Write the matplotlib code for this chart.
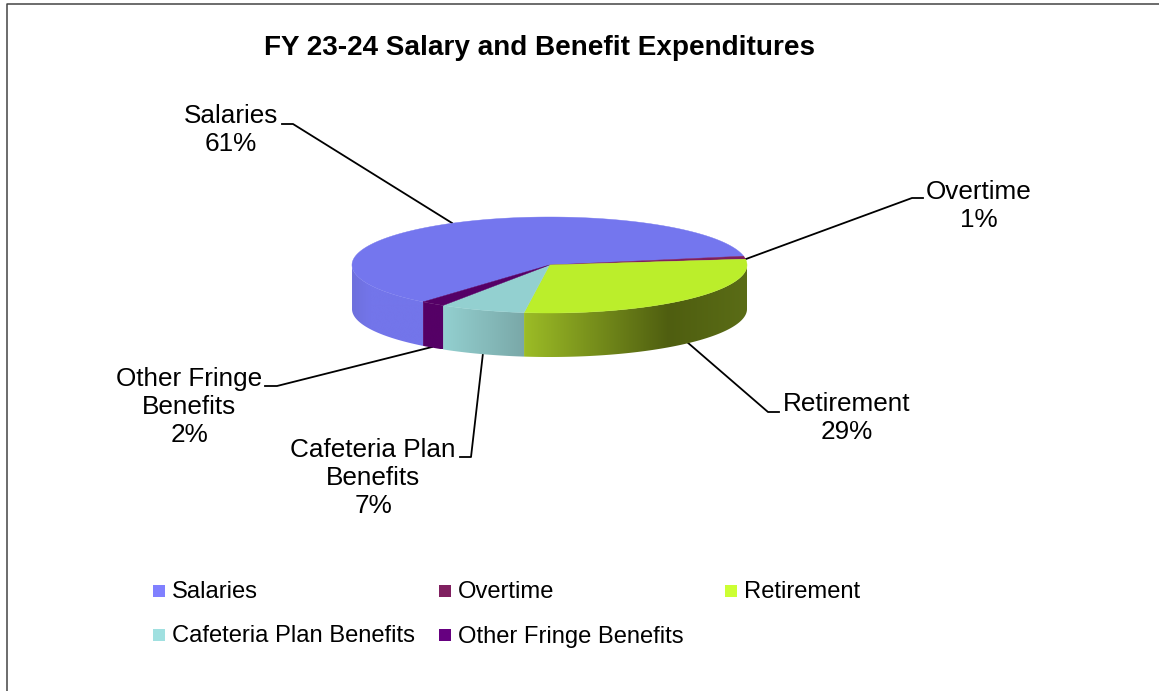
import matplotlib
matplotlib.use('Agg')
import matplotlib.pyplot as plt
from matplotlib.colors import LinearSegmentedColormap
from matplotlib.patches import Polygon, Rectangle
import numpy as np

plt.rcParams['font.family'] = ['Liberation Sans', 'DejaVu Sans']

# the chart values
categories = ['Salaries', 'Overtime', 'Retirement', 'Cafeteria Plan Benefits', 'Other Fringe Benefits']
percents = [61, 1, 29, 7, 2]
title = 'FY 23-24 Salary and Benefit Expenditures'

top_colors = ['#7476EE', '#7F1F5F', '#BBEE2B', '#93D0D0', '#550066']
legend_colors = ['#8080FF', '#802060', '#CCFF33', '#A0E0E0', '#660080']
side_stops = [
    [(0.0, '#6E70DC'), (0.25, '#7375EA'), (1.0, '#7375EA')],
    [(0.0, '#6A1850'), (1.0, '#6A1850')],
    [(0.0, '#9CBC26'), (0.65, '#4F5E10'), (1.0, '#5A6C16')],
    [(0.0, '#93D0D0'), (1.0, '#7AA8A8')],
    [(0.0, '#550066'), (1.0, '#550066')],
]

# pie geometry in pixels, ax is set up with pixel coords
cx, cy = 549.5, 265
rx, ry = 197.5, 48
depth = 44
start_angle = 230.2  # salaries starts here and goes clockwise

fig = plt.figure(figsize=(11.59, 6.91), dpi=100)
ax = fig.add_axes([0, 0, 1, 1])
ax.set_xlim(0, 1159)
ax.set_ylim(691, 0)
ax.axis('off')


def ell(theta_deg, dy=0):
    t = np.radians(theta_deg)
    return cx + rx * np.cos(t), cy - ry * np.sin(t) + dy


# frame only shows on the top and left
ax.plot([7, 7, 1159], [691, 4, 4], color='#444444', lw=1.1, solid_capstyle='butt')

shares = np.array(percents) / sum(percents) * 360
ends = start_angle - np.cumsum(shares)
starts = ends + shares

# sides first
for a1, a2, stops in zip(starts, ends, side_stops):
    th = np.linspace(a2, a1, 200)
    th = th[np.sin(np.radians(th)) <= 0]
    if len(th) < 2:
        continue
    x_top, y_top = ell(th)
    x_bot, y_bot = ell(th, depth)
    pts = np.column_stack([np.r_[x_top, x_bot[::-1]], np.r_[y_top, y_bot[::-1]]])
    poly = Polygon(pts, closed=True, facecolor='none', edgecolor='none')
    ax.add_patch(poly)
    cmap = LinearSegmentedColormap.from_list('side', stops)
    grad = np.linspace(0, 1, 256).reshape(1, -1)
    im = ax.imshow(grad, cmap=cmap, aspect='auto', zorder=2,
                   extent=[pts[:, 0].min(), pts[:, 0].max(), pts[:, 1].max(), pts[:, 1].min()])
    im.set_clip_path(poly)
ax.set_xlim(0, 1159)
ax.set_ylim(691, 0)

# top of the pie
for a1, a2, col in zip(starts, ends, top_colors):
    th = np.linspace(a1, a2, 200)
    x, y = ell(th)
    pts = np.column_stack([np.r_[cx, x], np.r_[cy, y]])
    ax.add_patch(Polygon(pts, closed=True, facecolor=col, edgecolor=col, lw=0.3, zorder=3))

# leader lines
leaders = [
    [(282, 124), (293, 124), (452, 223)],
    [(923, 198), (912, 198), (746, 259)],
    [(779, 412), (768, 412), (687, 342)],
    [(460, 457), (471, 457), (483, 353)],
    [(265, 386), (277, 386), (432, 347)],
]
for line in leaders:
    xs, ys = zip(*line)
    ax.plot(xs, ys, color='black', lw=1.3, zorder=1)

# data labels
label_pos = [(231, 130), (979, 206), (847, 418), (373, 478), (189, 407)]
label_lines = ['Salaries', 'Overtime', 'Retirement', 'Cafeteria Plan\nBenefits', 'Other Fringe\nBenefits']
for (lx, ly), name, pct in zip(label_pos, label_lines, percents):
    ax.text(lx, ly, f'{name}\n{pct}%', ha='center', va='center', fontsize=18.8,
            linespacing=1.2, color='black')

ax.text(539.5, 47.5, title, ha='center', va='center', fontsize=20.1, fontweight='bold')

# legend, filled row by row
legend_x = [153, 439, 725]
legend_y = [591, 635]
for i, (name, col) in enumerate(zip(categories, legend_colors)):
    lx = legend_x[i % 3]
    ly = legend_y[i // 3]
    ax.add_patch(Rectangle((lx, ly - 6), 12, 12, facecolor=col, edgecolor='none'))
    ax.text(lx + 18.5, ly + 1.5, name, ha='left', va='center', fontsize=17.1)

plt.savefig('out.png', dpi=100)
